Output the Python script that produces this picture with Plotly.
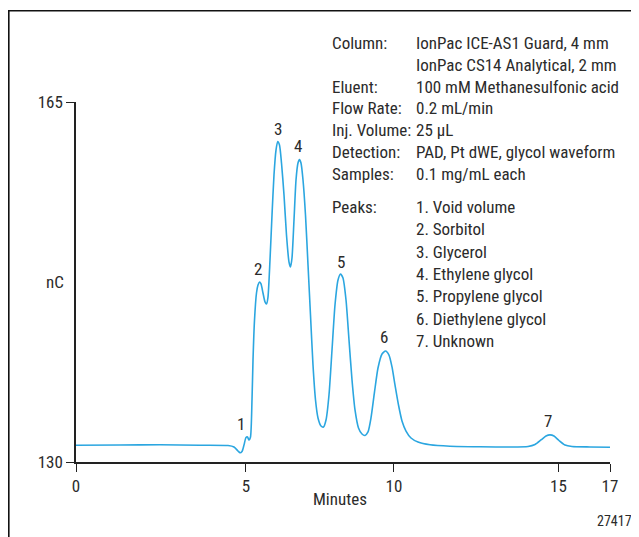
import plotly.graph_objects as go

# ---- data ----
time_min = [0.0, 1.40, 2.67, 3.95, 4.84, 5.030, 5.157, 5.221, 5.285, 5.348, 5.412, 5.460, 5.507, 5.555,
            5.603, 5.635, 5.683, 5.746, 5.794, 5.842, 5.890, 5.953, 6.017, 6.065, 6.112, 6.176, 6.240,
            6.303, 6.367, 6.421, 6.478, 6.542, 6.622, 6.701, 6.781, 6.829, 6.876, 6.940, 7.004, 7.067,
            7.115, 7.163, 7.227, 7.306, 7.386, 7.465, 7.545, 7.625, 7.704, 7.800, 7.879, 7.959, 8.054,
            8.150, 8.245, 8.341, 8.420, 8.500, 8.596, 8.691, 8.787, 8.882, 8.993, 9.105, 9.200, 9.296,
            9.391, 9.503, 9.614, 9.742, 9.853, 9.964, 10.060, 10.155, 10.267, 10.378, 10.506, 10.665,
            10.888, 11.270, 11.906, 12.861, 13.816, 14.390, 14.612, 14.803, 14.963, 15.090, 15.217,
            15.376, 15.567, 15.790, 16.363, 17.0]
signal_nc = [131.63, 131.66, 131.67, 131.63, 131.60, 131.46, 131.07, 130.90, 131.02, 131.65, 132.38,
             132.43, 132.14, 132.43, 136.03, 139.92, 143.81, 146.43, 147.21, 147.50, 147.31, 146.43,
             145.56, 145.36, 146.04, 149.64, 154.01, 157.90, 160.33, 161.16, 160.82, 159.07, 155.96,
             152.07, 149.44, 148.96, 149.83, 153.53, 157.42, 159.07, 159.41, 159.07, 157.42, 154.01,
             149.15, 144.29, 139.43, 136.03, 134.28, 133.50, 133.40, 134.08, 136.51, 140.89, 145.26,
             147.69, 148.28, 147.89, 145.75, 141.86, 137.97, 135.06, 133.31, 132.72, 132.58, 132.92,
             134.28, 136.81, 139.14, 140.50, 140.79, 140.40, 139.24, 137.49, 135.54, 133.99, 133.01,
             132.33, 131.94, 131.67, 131.53, 131.48, 131.46, 131.51, 131.70, 132.14, 132.53, 132.64,
             132.53, 132.09, 131.65, 131.51, 131.46, 131.43]

peak_labels = ["1", "2", "3", "4", "5", "6", "7"]
peak_label_x = [5.25, 5.79, 6.43, 7.07, 8.44, 9.81, 15.03]
peak_label_y = [133.7, 148.8, 162.4, 160.7, 149.4, 142.2, 134.0]

x_tick_pos = [0, 5.41, 10.12, 15.36, 17]
x_tick_text = ["0", "5", "10", "15", "17"]
y_tick_vals = [130, 165]

cond_labels = ["Column:", "", "Eluent:", "Flow Rate:", "Inj. Volume:", "Detection:", "Samples:"]
cond_values = ["IonPac ICE-AS1 Guard, 4 mm", "IonPac CS14 Analytical, 2 mm",
               "100 mM Methanesulfonic acid", "0.2 mL/min", "25 µL",
               "PAD, Pt dWE, glycol waveform", "0.1 mg/mL each"]
peak_names = ["1. Void volume", "2. Sorbitol", "3. Glycerol", "4. Ethylene glycol",
              "5. Propylene glycol", "6. Diethylene glycol", "7. Unknown"]

# ---- style ----
FONT = "Liberation Sans Narrow, Roboto Condensed, Arial Narrow, Liberation Sans, sans-serif"
FS = 17
TXT = "#2b2b2b"
LINE = "#2ba6e0"
OFF = 8  # page body margin
W, H = 639 - OFF, 537 - OFF
# plot area in page pixels
X0, X1, Y0, Y1 = 76, 610, 102, 462
L, R, T, B = X0 - OFF, 639 - X1, Y0 - OFF, 537 - Y1
PW, PH = X1 - X0, Y1 - Y0

def px_x(p):
    return (p - X0) / PW

def px_y(p):
    return (Y1 - p) / PH

fig = go.Figure()
fig.add_trace(go.Scatter(x=time_min, y=signal_nc, mode="lines",
                         line=dict(color=LINE, width=1.6, shape="spline", smoothing=0.6),
                         hoverinfo="skip", showlegend=False))

ann = []
for lab, xx, yy in zip(peak_labels, peak_label_x, peak_label_y):
    ann.append(dict(x=xx, y=yy, xref="x", yref="y", text=lab, showarrow=False,
                    xanchor="center", yanchor="middle",
                    font=dict(family=FONT, size=FS, color=TXT)))

for i, (lab, val) in enumerate(zip(cond_labels, cond_values)):
    yc = 43 + i * 21.8
    if lab:
        ann.append(dict(x=px_x(330), y=px_y(yc), xref="paper", yref="paper", text=lab,
                        xanchor="left", yanchor="middle", showarrow=False,
                        font=dict(family=FONT, size=FS, color=TXT)))
    ann.append(dict(x=px_x(414), y=px_y(yc), xref="paper", yref="paper", text=val,
                    xanchor="left", yanchor="middle", showarrow=False,
                    font=dict(family=FONT, size=FS, color=TXT)))

ann.append(dict(x=px_x(330), y=px_y(207), xref="paper", yref="paper", text="Peaks:",
                xanchor="left", yanchor="middle", showarrow=False,
                font=dict(family=FONT, size=FS, color=TXT)))
for i, name in enumerate(peak_names):
    yc = 207 + i * 22.3
    ann.append(dict(x=px_x(414), y=px_y(yc), xref="paper", yref="paper", text=name,
                    xanchor="left", yanchor="middle", showarrow=False,
                    font=dict(family=FONT, size=FS, color=TXT)))

ann.append(dict(x=px_x(54.5), y=px_y(282), xref="paper", yref="paper", text="nC",
                xanchor="center", yanchor="middle",
                showarrow=False, font=dict(family=FONT, size=FS, color=TXT)))
ann.append(dict(x=px_x(340), y=px_y(499), xref="paper", yref="paper", text="Minutes",
                xanchor="center", yanchor="middle",
                showarrow=False, font=dict(family=FONT, size=FS, color=TXT)))
ann.append(dict(x=px_x(634), y=px_y(521), xref="paper", yref="paper", text="27417",
                xanchor="right", yanchor="middle",
                showarrow=False, font=dict(family=FONT, size=14, color=TXT)))

fig.update_layout(
    width=W, height=H,
    margin=dict(l=L, r=R, t=T, b=B),
    paper_bgcolor="white", plot_bgcolor="white",
    annotations=ann,
    shapes=[dict(type="rect", xref="paper", yref="paper",
                 x0=px_x(8.8), x1=px_x(700), y0=px_y(600), y1=px_y(10.8),
                 line=dict(color="#111111", width=1.6), layer="above")],
    xaxis=dict(range=[0, 17], tickmode="array", tickvals=x_tick_pos, ticktext=x_tick_text,
               showgrid=False, zeroline=False, showline=True, linecolor="#222222", linewidth=1.5,
               ticks="outside", ticklen=8, tickwidth=1.4, tickcolor="#222222",
               tickfont=dict(family=FONT, size=FS, color=TXT)),
    yaxis=dict(range=[130, 165], tickmode="array", tickvals=y_tick_vals,
               showgrid=False, zeroline=False, showline=True, linecolor="#222222", linewidth=1.5,
               ticks="outside", ticklen=8, tickwidth=1.4, tickcolor="#222222",
               tickfont=dict(family=FONT, size=FS, color=TXT)),
)

fig.write_html("out.html")
